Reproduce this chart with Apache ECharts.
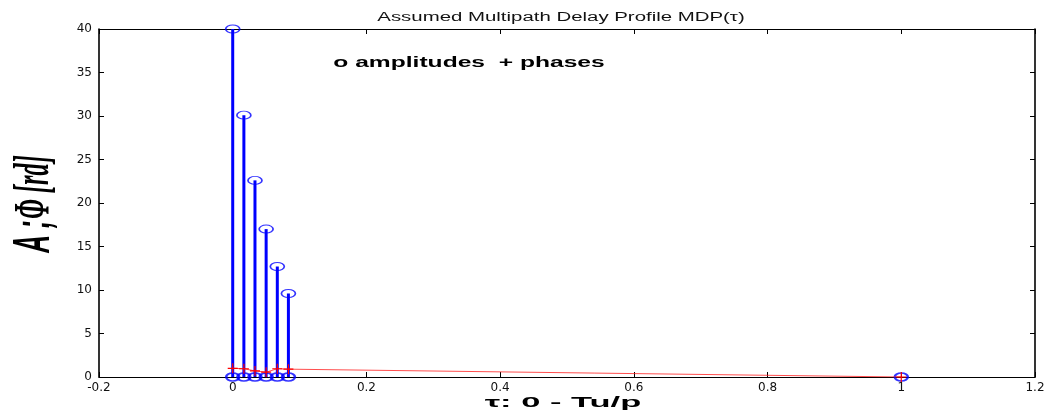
<!DOCTYPE html>
<html>
<head>
<meta charset="utf-8">
<script src="https://cdn.jsdelivr.net/npm/echarts@6/dist/echarts.min.js"></script>
<style>html,body{margin:0;padding:0;background:#fff;overflow:hidden}#c{width:1049px;height:414px}</style>
</head>
<body>
<div id="c"></div>
<script>
// Data
const delays = [0, 0.0167, 0.0333, 0.05, 0.0667, 0.0833, 1];
const amplitudes = [40, 30.1, 22.6, 17.0, 12.7, 9.6, 0];
const phases = [1.0, 0.95, 0.7, 0.55, 0.95, 0.9, 0.0];
const xTicks = [-0.2, 0, 0.2, 0.4, 0.6, 0.8, 1, 1.2];
const yTicks = [0, 5, 10, 15, 20, 25, 30, 35, 40];

const stemData = delays.map((d, i) => [d, amplitudes[i]]);
const topData = delays.map((d, i) => [d, amplitudes[i]]).filter(p => p[1] > 0);
const baseData = delays.map(d => [d, 0]);
const phaseData = delays.map((d, i) => [d, phases[i]]);

const chart = echarts.init(document.getElementById('c'), null, {renderer: 'canvas'});
const tickFont = {fontFamily: 'DejaVu Sans', fontSize: 12, color: '#111'};
const plus = 'path://M0,4.4L10,4.4L10,5.6L0,5.6Z M4.4,0L5.6,0L5.6,10L4.4,10Z';

chart.setOption({
  animation: false,
  backgroundColor: '#fff',
  grid: {left: 99, right: 14, top: 29, bottom: 37, containLabel: false},
  xAxis: [
    {type: 'value', min: xTicks[0], max: xTicks[xTicks.length - 1], interval: 0.2, position: 'bottom',
     axisLine: {show: true, onZero: false, lineStyle: {color: '#000', width: 1.2}},
     axisTick: {show: true, inside: true, length: 5, lineStyle: {color: '#000'}},
     axisLabel: Object.assign({margin: 5, formatter: v => String(Math.round(v * 10) / 10)}, tickFont),
     splitLine: {show: false}},
    {type: 'value', min: xTicks[0], max: xTicks[xTicks.length - 1], interval: 0.2, position: 'top',
     axisLine: {show: true, onZero: false, lineStyle: {color: '#000', width: 1}},
     axisTick: {show: true, inside: true, length: 5, lineStyle: {color: '#000'}},
     axisLabel: {show: false}, splitLine: {show: false}}
  ],
  yAxis: [
    {type: 'value', min: yTicks[0], max: yTicks[yTicks.length - 1], interval: 5, position: 'left',
     axisLine: {show: true, onZero: false, lineStyle: {color: '#000', width: 1.6}},
     axisTick: {show: true, inside: true, length: 5, lineStyle: {color: '#000'}},
     axisLabel: Object.assign({margin: 7}, tickFont),
     splitLine: {show: false}},
    {type: 'value', min: yTicks[0], max: yTicks[yTicks.length - 1], interval: 5, position: 'right',
     axisLine: {show: true, onZero: false, lineStyle: {color: '#000', width: 1.6}},
     axisTick: {show: true, inside: true, length: 5, lineStyle: {color: '#000'}},
     axisLabel: {show: false}, splitLine: {show: false}}
  ],
  graphic: [
    {type: 'text', x: 561, y: 18, scaleX: 1.7, scaleY: 1,
     style: {text: 'Assumed Multipath Delay Profile MDP(τ)', fontFamily: 'Liberation Sans', fontSize: 12,
             fill: '#111', align: 'center', verticalAlign: 'middle'}},
    {type: 'text', x: 469, y: 63, scaleX: 1.64, scaleY: 1,
     style: {text: 'o amplitudes  + phases', fontFamily: 'Liberation Sans', fontWeight: 'bold', fontSize: 15,
             fill: '#000', align: 'center', verticalAlign: 'middle'}},
    {type: 'text', x: 563, y: 410, scaleX: 2.3, scaleY: 1,
     style: {text: 'τ: 0 - Tu/p', fontFamily: 'Liberation Sans', fontWeight: 'bold', fontSize: 15,
             fill: '#000', align: 'center', verticalAlign: 'bottom'}},
    {type: 'text', x: 35, y: 204, rotation: Math.PI / 2, scaleX: 0.48, scaleY: 1,
     style: {text: '{a|A ;} {b|Φ [rd]}', align: 'center', verticalAlign: 'middle',
             rich: {a: {fontFamily: 'Liberation Sans', fontWeight: 'bold', fontStyle: 'italic', fontSize: 51, fill: '#000'},
                    b: {fontFamily: 'Liberation Serif', fontWeight: 'bold', fontStyle: 'italic', fontSize: 51, fill: '#000'}}}}
  ],
  series: [
    {type: 'custom', name: 'stems', xAxisIndex: 0, yAxisIndex: 0, data: stemData, z: 2,
     renderItem: (params, api) => {
       const p0 = api.coord([api.value(0), 0]);
       const p1 = api.coord([api.value(0), api.value(1)]);
       return {type: 'line', shape: {x1: p0[0], y1: p0[1], x2: p1[0], y2: p1[1]},
               style: {stroke: '#0000ff', lineWidth: 3}};
     }},
    {type: 'scatter', name: 'amplitudes', data: topData, symbol: 'circle', symbolSize: [14, 8], z: 3,
     itemStyle: {color: 'rgba(0,0,0,0)', borderColor: '#0000ff', borderWidth: 1.3}},
    {type: 'scatter', name: 'base', data: baseData, symbol: 'circle', symbolSize: [13, 8], z: 3,
     itemStyle: {color: 'rgba(0,0,0,0)', borderColor: '#0000ff', borderWidth: 2}},
    {type: 'line', name: 'phases', data: phaseData, symbol: plus, symbolSize: 10, showAllSymbol: true, z: 4,
     lineStyle: {color: '#ff2020', width: 0.8}, itemStyle: {color: '#ff0000'}}
  ]
});
</script>
</body>
</html>
